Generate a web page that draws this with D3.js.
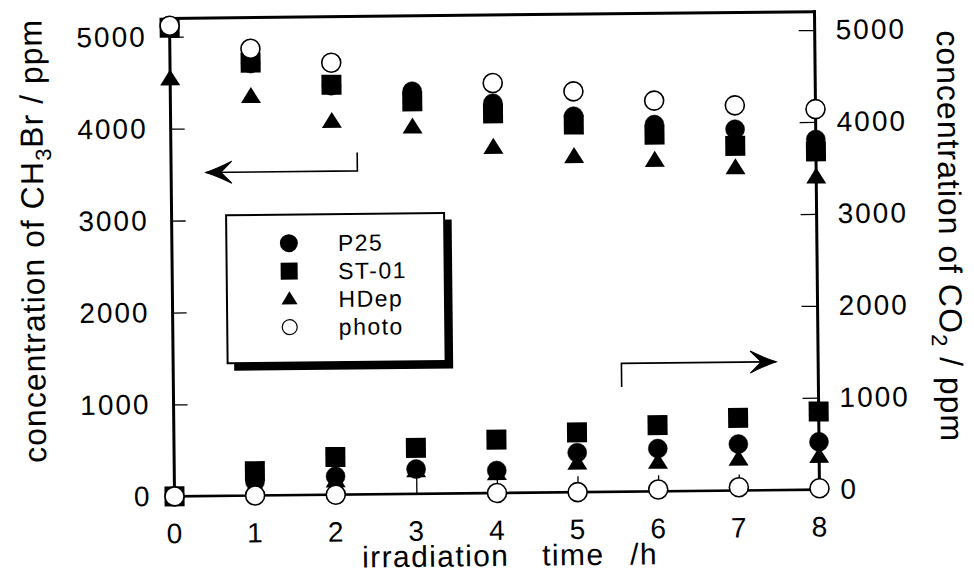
<!DOCTYPE html>
<html><head><meta charset="utf-8">
<script src="https://cdn.jsdelivr.net/npm/d3@7"></script>
<style>
body{margin:0;background:#fff}
svg{display:block}
text{font-family:"Liberation Sans",Arial,Helvetica,sans-serif;fill:#000}
</style>
</head><body>
<svg id="c" width="974" height="574"></svg>
<script>
// ---- data ----
const hours = [0,1,2,3,4,5,6,7,8];
const xTicks = [0,1,2,3,4,5,6,7,8];
const yTicks = [1000,2000,3000,4000,5000];
const yTickLabels = [0,1000,2000,3000,4000,5000];
const seriesNames = ["P25","ST-01","HDep","photo"];
const xTitleWords = ["irradiation","time","/h"];
// CH3Br (left axis, ppm)
const ch3brP25   = [5100,4700,4450,4380,4240,4090,3990,3930,3810];
const ch3brST01  = [5100,4710,4460,4270,4130,4000,3880,3750,3680];
const ch3brHDep  = [4540,4340,4060,3990,3760,3650,3600,3510,3400];
const ch3brPhoto = [5120,4860,4700,null,4460,4360,4250,4190,4140];
// CO2 (right axis, ppm)
const co2P25   = [0,150,200,270,245,430,465,505,520];
const co2ST01  = [0,265,410,500,580,650,720,790,850];
const co2HDep  = [0,100,150,250,210,315,315,340,360];
const co2Photo = [0,0,0,null,0,0,20,35,15];
// annotation arrows (hour, ppm)
const arrowCH3Br = [[2.31,3720],[2.31,3520],[0.43,3520]];
const arrowCO2   = [[5.56,1140],[5.56,1396],[7.48,1396]];

// ---- scales ----
const x  = d3.scaleLinear().domain([0,8]).range([172,817]);
const yL = d3.scaleLinear().domain([0,5200]).range([493,15]);
const yR = d3.scaleLinear().domain([0,5200]).range([493,15]);

const svg = d3.select("#c");
const g = svg.append("g").attr("transform","rotate(-0.6,496,254)");

// ---- axes (ticks inward, labels outside) ----
const tickStyle = sel => {
  sel.select(".domain").remove();
  sel.selectAll(".tick line").attr("stroke","#000").attr("stroke-width",1.3);
  sel.selectAll(".tick text").attr("font-size",28).attr("letter-spacing","2px").attr("fill","#000");
};
const fmt = d3.format("d");
g.append("g").attr("transform",`translate(${x(0)},0)`)
  .call(d3.axisLeft(yL).tickValues(yTickLabels).tickFormat(fmt).tickSizeInner(-14).tickSizeOuter(0).tickPadding(23))
  .call(tickStyle)
  .call(s=>s.selectAll(".tick").filter(d=>!yTicks.includes(d)).select("line").remove());
g.append("g").attr("transform",`translate(${x(8)},0)`)
  .call(d3.axisRight(yR).tickValues(yTickLabels).tickFormat(fmt).tickSizeInner(-16).tickSizeOuter(0).tickPadding(21))
  .call(tickStyle)
  .call(s=>s.selectAll(".tick").filter(d=>!yTicks.includes(d)).select("line").remove());
g.append("g").attr("transform",`translate(0,${yL(0)})`)
  .call(d3.axisBottom(x).tickValues(xTicks).tickFormat(fmt).tickSizeInner(-16).tickSizeOuter(0).tickPadding(27))
  .call(tickStyle)
  .call(s=>s.selectAll(".tick").filter(d=>d===0||d===8).select("line").remove());

// frame
const frame = g.append("g").attr("stroke","#000").attr("stroke-linecap","square");
frame.append("line").attr("x1",x(0)).attr("x2",x(0)).attr("y1",yL(5200)).attr("y2",yL(0)).attr("stroke-width",3);
frame.append("line").attr("x1",x(0)).attr("x2",x(8)).attr("y1",yL(5200)).attr("y2",yL(5200)).attr("stroke-width",3);
frame.append("line").attr("x1",x(8)).attr("x2",x(8)).attr("y1",yR(5200)).attr("y2",yR(0)).attr("stroke-width",3);
frame.append("line").attr("x1",x(0)).attr("x2",x(8)).attr("y1",yL(0)).attr("y2",yL(0)).attr("stroke-width",2.6);

// ---- arrows ----
function drawArrow(pts, yS){
  const p = pts.map(d=>[x(d[0]), yS(d[1])]);
  g.append("path").attr("d",d3.line()(p)).attr("fill","none").attr("stroke","#000").attr("stroke-width",1.6);
  const [tx,ty] = p[2], [cx] = p[1];
  const dir = Math.sign(tx-cx);
  const bx = tx - dir*26, nx = tx - dir*15;
  g.append("path")
    .attr("d",`M${tx},${ty} Q${tx-dir*12},${ty-4} ${bx},${ty-11} L${nx},${ty} L${bx},${ty+11} Q${tx-dir*12},${ty+4} ${tx},${ty}Z`)
    .attr("fill","#000").attr("stroke","#000").attr("stroke-width",1);
}
drawArrow(arrowCH3Br, yL);
drawArrow(arrowCO2, yR);

// ---- markers ----
const tri = (cx,cy,w,h)=>`M${cx},${cy-h*0.6}L${cx+w/2},${cy+h*0.4}L${cx-w/2},${cy+h*0.4}Z`;
const present = vals => hours.filter((h,i)=>vals[i]!=null);
function circles(vals, yS, open){
  g.append("g").selectAll("circle").data(present(vals))
    .join("circle").attr("cx",d=>x(d)).attr("cy",d=>yS(vals[hours.indexOf(d)]))
    .attr("r",9.5)
    .attr("fill",open?"#fff":"#000").attr("stroke","#000").attr("stroke-width",open?1.6:0.5);
}
function squares(vals, yS){
  g.append("g").selectAll("rect").data(present(vals))
    .join("rect").attr("x",d=>x(d)-10).attr("y",d=>yS(vals[hours.indexOf(d)])-10)
    .attr("width",20).attr("height",20).attr("fill","#000");
}
function triangles(vals, yS){
  g.append("g").selectAll("path").data(present(vals))
    .join("path").attr("d",d=>tri(x(d), yS(vals[hours.indexOf(d)]), 20, 16)).attr("fill","#000");
}
circles(ch3brP25, yL, false);
circles(co2P25, yR, false);
squares(ch3brST01, yL);
squares(co2ST01, yR);
triangles(ch3brHDep, yL);
triangles(co2HDep, yR);
circles(ch3brPhoto, yL, true);
circles(co2Photo, yR, true);

// ---- legend ----
const lg = g.append("g");
lg.append("rect").attr("x",233).attr("y",219).attr("width",219).attr("height",149).attr("fill","#000");
lg.append("rect").attr("x",226.5).attr("y",212.5).attr("width",218).attr("height",148)
  .attr("fill","#fff").attr("stroke","#000").attr("stroke-width",2);
const legY = [241,269,297,325];
const sx = 289;
lg.append("circle").attr("cx",sx).attr("cy",legY[0]).attr("r",9).attr("fill","#000");
lg.append("rect").attr("x",sx-8.5).attr("y",legY[1]-8.5).attr("width",17).attr("height",17).attr("fill","#000");
lg.append("path").attr("d",tri(sx,legY[2],16,13)).attr("fill","#000");
lg.append("circle").attr("cx",sx).attr("cy",legY[3]).attr("r",7.5).attr("fill","#fff").attr("stroke","#000").attr("stroke-width",1.2);
lg.selectAll("text.lab").data(seriesNames).join("text").attr("class","lab")
  .attr("x",338).attr("y",(d,i)=>legY[i]).attr("dy","0.36em")
  .attr("font-size",23).attr("letter-spacing","1.5px").text(d=>d);

// ---- titles ----
const lt = g.append("text").attr("transform","translate(44,236) rotate(-90)")
  .attr("text-anchor","middle").attr("font-size",32).attr("letter-spacing","1px");
lt.append("tspan").text("concentration of CH");
lt.append("tspan").attr("font-size",22).attr("dy",8).text("3");
lt.append("tspan").attr("dy",-8).text("Br / ppm");

const rt = g.append("text").attr("transform","translate(939,241) rotate(90)")
  .attr("text-anchor","middle").attr("font-size",32).attr("letter-spacing","1px");
rt.append("tspan").text("concentration of CO");
rt.append("tspan").attr("font-size",22).attr("dy",8).text("2");
rt.append("tspan").attr("dy",-8).text(" / ppm");

const xTitleX = [359,539,627];
g.selectAll("text.xt").data(xTitleWords).join("text").attr("class","xt")
  .attr("x",(d,i)=>xTitleX[i]).attr("y",566)
  .attr("font-size",30).attr("letter-spacing","1.4px").text(d=>d);
</script>
</body></html>
